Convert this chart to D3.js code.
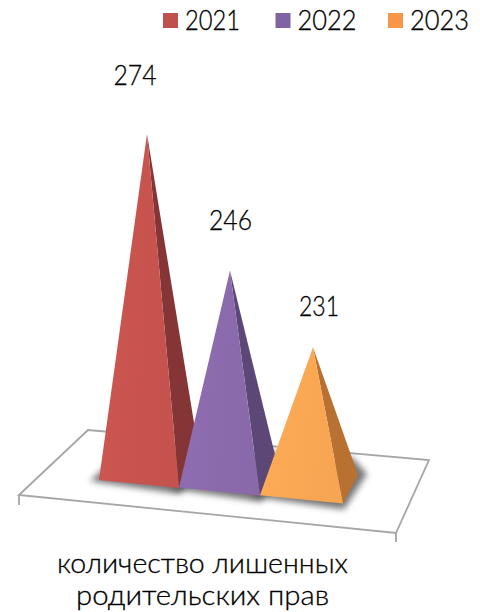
<!DOCTYPE html>
<html><head><meta charset="utf-8">
<script src="https://cdn.jsdelivr.net/npm/d3@7/dist/d3.min.js"></script>
<style>html,body{margin:0;padding:0;background:#fff}svg{display:block}text{font-family:Lato,"Open Sans",sans-serif;fill:#000;stroke:#000;stroke-width:.3px;font-weight:300}</style>
</head><body><svg id="c" width="480" height="612"></svg>
<script>
const years = ["2021","2022","2023"];
const values = [274,246,231];
const categoryLines = ["количество лишенных","родительских прав"];
const frontColors = ["#c9544f","#8c6bae","#fda955"];
const sideColors = ["#853535","#5c4777","#b87130"];
const legendColors = ["#c0504d","#8064a2","#f79646"];

const svg = d3.select("#c");
const idx = d3.scaleOrdinal().domain(years).range([0,1,2]);
const xEdge = d3.scaleLinear().domain([0,1,2,3]).range([99,179,260,343]);
const floorY = d3.scaleLinear().domain([99,343]).range([480,503]);
const xApex = d3.scalePoint().domain(years).range([147,313]);
const h = d3.scaleLinear().domain([201,274]).range([0,336]);
const depthX = d3.scalePoint().domain(years).range([21,15]);
const depthY = -28;

const defs = svg.append("defs");
defs.append("filter").attr("id","blur").attr("x","-30%").attr("y","-50%").attr("width","160%").attr("height","200%")
  .append("feGaussianBlur").attr("stdDeviation",3);
years.forEach((y,i)=>{
  const g = defs.append("linearGradient").attr("id","f"+i).attr("x1",0).attr("x2",1).attr("y1",0).attr("y2",0.2);
  g.append("stop").attr("offset",0).attr("stop-color",d3.color(frontColors[i]).brighter(0.05));
  g.append("stop").attr("offset",1).attr("stop-color",d3.color(frontColors[i]).darker(0.06));
});

// floor
svg.append("polygon").attr("points","19,495 88,430 429,460 396,533")
  .attr("fill","#fff").attr("stroke","#a6a6a6").attr("stroke-width",1.8);
svg.append("path").attr("d","M19,495V505M396,533V542").attr("stroke","#a6a6a6").attr("stroke-width",1.8).attr("fill","none");

const pts = years.map((y,i)=>{
  const x0 = xEdge(idx(y)), x1 = xEdge(idx(y)+1);
  const L=[x0,floorY(x0)], F=[x1,floorY(x1)+0.5], R=[x1+depthX(y),floorY(x1)+depthY];
  const cy = (L[1]+F[1])/2 + depthY/2;
  return {L,F,R,A:[xApex(y),cy-h(values[i])]};
});
const p = a=>a.map(d=>d.join(",")).join(" ");

// shadow
svg.selectAll(".shadow").data(pts).join("polygon").attr("class","shadow")
  .attr("points",d=>p([[d.L[0]-9,d.L[1]+1],[d.F[0]+1,d.F[1]+6],[d.R[0]+9,d.R[1]-1],[d.R[0]-6,d.R[1]-18],[d.L[0]+12,d.L[1]-18]]))
  .attr("fill","#4a4a4a").attr("opacity",.75).attr("filter","url(#blur)");

// pyramids
const gp = svg.selectAll(".pyr").data(pts).join("g").attr("class","pyr");
gp.append("polygon").attr("points",d=>p([d.A,d.F,d.R])).attr("fill",(d,i)=>sideColors[i]);
gp.append("polygon").attr("points",d=>p([d.A,d.L,d.F])).attr("fill",(d,i)=>`url(#f${i})`);

// value labels
const labelX = d3.scaleLinear().domain([0,1,2]).range([135,230.5,319]);
const labelY = d3.scaleLinear().domain([231,246,274]).range([316,230,85]);
const labelW = [43,43,40];
svg.selectAll(".val").data(values).join("text").attr("class","val")
  .attr("x",(d,i)=>labelX(i)).attr("y",d=>labelY(d)).attr("text-anchor","middle")
  .attr("font-size",27).attr("textLength",(d,i)=>labelW[i]).attr("lengthAdjust","spacingAndGlyphs").text(d=>d);

// legend
const lx = d3.scalePoint().domain(years).range([163,388]);
const legendW = [55,59,59];
svg.selectAll(".sw").data(years).join("rect").attr("class","sw")
  .attr("x",d=>lx(d)).attr("y",13).attr("width",15).attr("height",15).attr("fill",(d,i)=>legendColors[i]);
svg.selectAll(".lt").data(years).join("text").attr("class","lt")
  .attr("x",d=>lx(d)+22).attr("y",30).attr("font-size",27).attr("textLength",(d,i)=>legendW[i]).attr("lengthAdjust","spacingAndGlyphs").text(d=>d);

// category label
const catW=[291,253];
svg.selectAll(".cat").data(categoryLines).join("text").attr("class","cat")
  .attr("x",202.5).attr("y",(d,i)=>573+i*32).attr("text-anchor","middle").attr("font-size",27)
  .attr("textLength",(d,i)=>catW[i]).attr("lengthAdjust","spacingAndGlyphs").text(d=>d);
</script></body></html>
